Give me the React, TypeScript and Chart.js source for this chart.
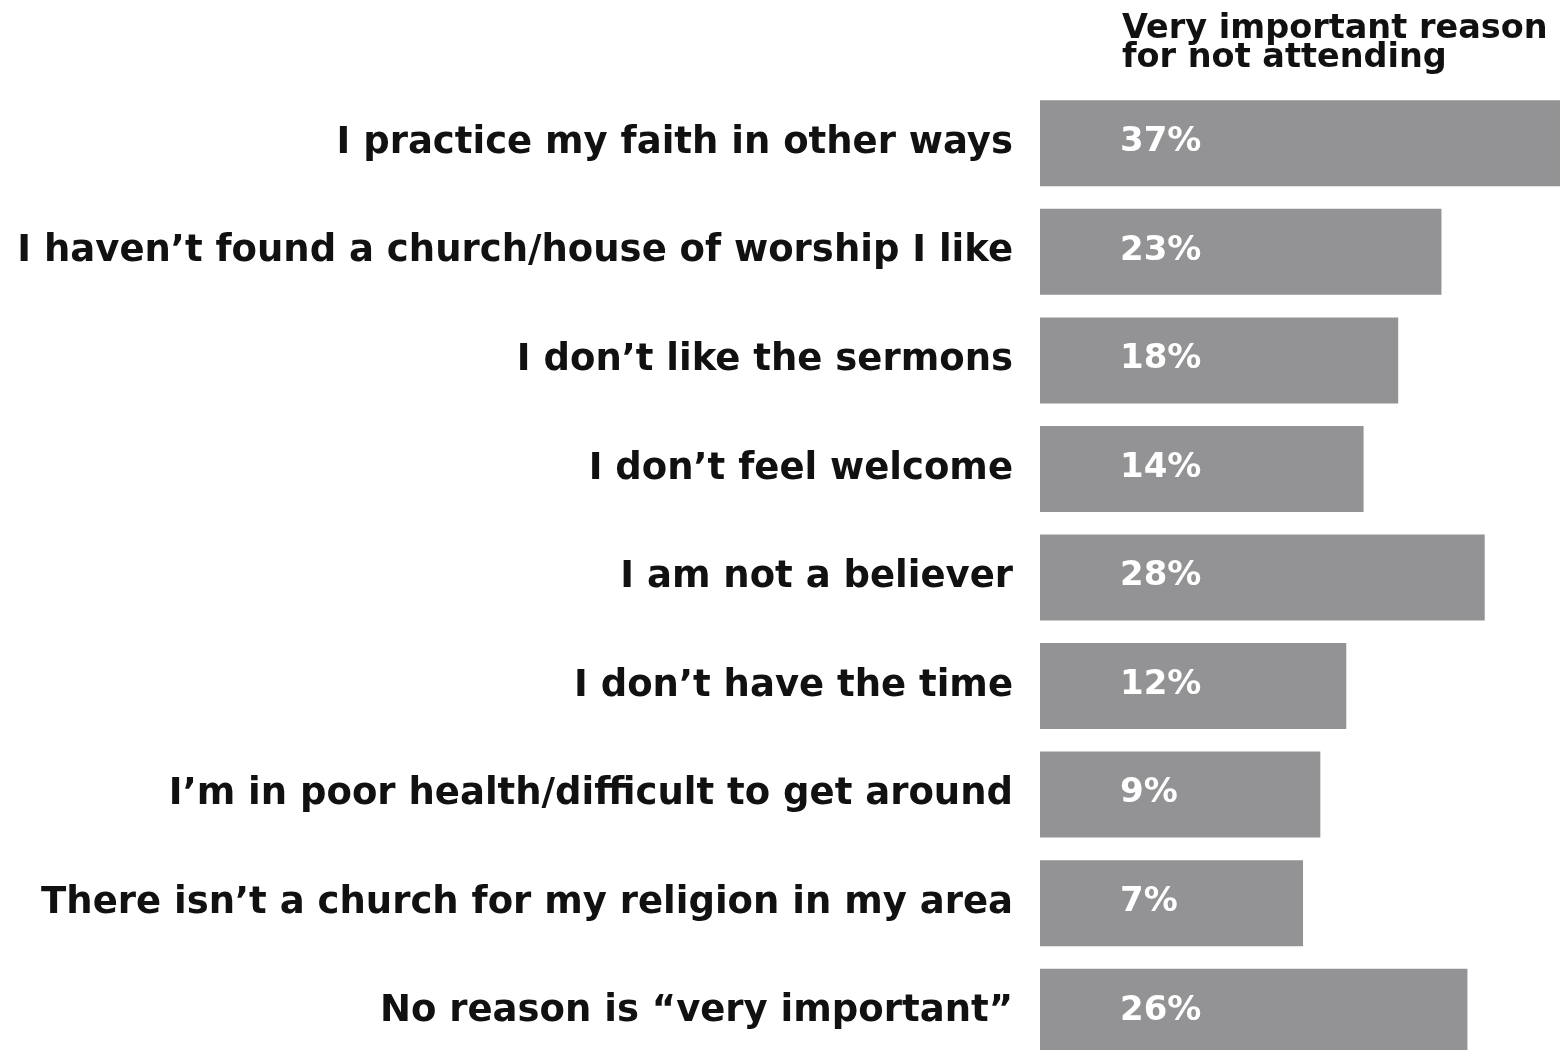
import React, { useEffect, useRef } from "react";
import { Chart, registerables } from "chart.js";

Chart.register(...registerables);

const categories = [
  "I practice my faith in other ways",
  "I haven\u2019t found a church/house of worship I like",
  "I don\u2019t like the sermons",
  "I don\u2019t feel welcome",
  "I am not a believer",
  "I don\u2019t have the time",
  "I\u2019m in poor health/difficult to get around",
  "There isn\u2019t a church for my religion in my area",
  "No reason is \u201cvery important\u201d",
];
const values = [37, 23, 18, 14, 28, 12, 9, 7, 26];
const headerLines = ["Very important reason", "for not attending"];

const FONT = "'DejaVu Sans', 'Open Sans', sans-serif";
const BAR_COLOR = "#939396";

const overlayPlugin = {
  id: "overlayText",
  afterDatasetsDraw(chart: any) {
    const ctx = chart.ctx;
    const area = chart.chartArea;
    const meta = chart.getDatasetMeta(0);
    ctx.save();
    ctx.fillStyle = "#ffffff";
    ctx.font = `700 34px ${FONT}`;
    ctx.textAlign = "left";
    ctx.textBaseline = "middle";
    meta.data.forEach((bar: any, i: number) => {
      ctx.fillText(`${values[i]}%`, area.left + 80, bar.y - 1);
    });
    ctx.fillStyle = "#111111";
    ctx.font = `700 33.5px ${FONT}`;
    ctx.textBaseline = "alphabetic";
    ctx.fillText(headerLines[0], area.left + 82, 38);
    ctx.fillText(headerLines[1], area.left + 82, 67);
    ctx.restore();
  },
};

export default function App() {
  const ref = useRef<HTMLCanvasElement | null>(null);
  useEffect(() => {
    document.body.style.margin = "0";
    const canvas = ref.current;
    if (!canvas) return;
    const chart = new Chart(canvas, {
      type: "bar",
      data: {
        labels: categories,
        datasets: [
          {
            data: values,
            backgroundColor: BAR_COLOR,
            borderWidth: 0,
            base: -23.4,
            categoryPercentage: 1,
            barPercentage: 0.792,
          } as any,
        ],
      },
      options: {
        indexAxis: "y",
        animation: false,
        responsive: false,
        maintainAspectRatio: false,
        layout: { padding: { top: 89, bottom: 0, left: 0, right: 0 } },
        plugins: {
          legend: { display: false },
          tooltip: { enabled: false },
          title: { display: false },
        },
        scales: {
          x: {
            display: false,
            min: -23.4,
            max: 36.7,
          },
          y: {
            grid: { display: false, drawTicks: false },
            border: { display: false },
            afterFit: (scale: any) => {
              scale.width = 1040;
              scale.paddingTop = 0;
              scale.paddingBottom = 0;
            },
            ticks: {
              padding: 27,
              color: "#111111",
              font: { family: FONT, size: 37, weight: "bold" },
            },
          },
        },
      },
      plugins: [overlayPlugin],
    });
    return () => chart.destroy();
  }, []);
  return (
    <div style={{ width: 1560, height: 1050, overflow: "hidden", background: "#fff" }}>
      <canvas ref={ref} width={1560} height={1066} style={{ display: "block" }} />
    </div>
  );
}
